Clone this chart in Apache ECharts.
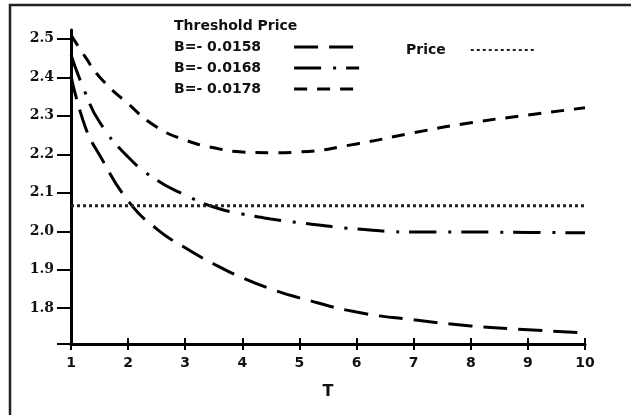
<!DOCTYPE html>
<html>
<head>
<meta charset="utf-8">
<script src="https://cdn.jsdelivr.net/npm/echarts@6/dist/echarts.min.js"></script>
<style>
  html, body { margin: 0; padding: 0; background: #fff; }
  #chart { width: 631px; height: 415px; }
</style>
</head>
<body>
<div id="chart"></div>
<script>
// values
const tValues = [1, 1.25, 1.5, 2, 2.5, 3, 3.5, 4, 4.5, 5, 6, 7, 8, 9, 10];
const b0158 = [2.404, 2.271, 2.198, 2.079, 2.006, 1.957, 1.915, 1.879, 1.850, 1.827, 1.790, 1.770, 1.754, 1.744, 1.736];
const b0168 = [2.458, 2.360, 2.284, 2.193, 2.133, 2.094, 2.063, 2.045, 2.032, 2.022, 2.006, 1.998, 1.998, 1.997, 1.996];
const b0178 = [2.510, 2.453, 2.401, 2.331, 2.271, 2.237, 2.217, 2.206, 2.204, 2.206, 2.227, 2.256, 2.282, 2.302, 2.321];
const priceT = [1, 10];
const priceValues = [2.066, 2.066];
const xTicks = [1, 2, 3, 4, 5, 6, 7, 8, 9, 10];
const yTicks = [1.8, 1.9, 2.0, 2.1, 2.2, 2.3, 2.4, 2.5];
const yMin = 1.707;
const yMax = 2.523;

const pairs = (xs, ys) => xs.map((x, i) => [x, ys[i]]);

const chart = echarts.init(document.getElementById('chart'), null, { renderer: 'canvas' });

const bold = { fontFamily: 'DejaVu Sans', fontWeight: 'bold', color: '#111' };

const option = {
  animation: false,
  backgroundColor: '#fff',
  title: {
    text: 'Threshold Price',
    left: 174,
    top: 19,
    padding: 0,
    textStyle: { ...bold, fontSize: 14 }
  },
  legend: [{
    data: ['B=- 0.0158', 'B=- 0.0168', 'B=- 0.0178'],
    orient: 'vertical',
    align: 'right',
    left: 174,
    top: 40,
    padding: 0,
    itemWidth: 65,
    itemHeight: 14,
    itemGap: 7,
    itemStyle: { opacity: 0 },
    lineStyle: { width: 3 },
    textStyle: { ...bold, fontSize: 14, padding: [0, 28, 0, 0] }
  }, {
    data: ['Price'],
    align: 'right',
    left: 406,
    top: 43,
    padding: 0,
    itemWidth: 64,
    itemHeight: 14,
    itemStyle: { opacity: 0 },
    lineStyle: { width: 2 },
    textStyle: { ...bold, fontSize: 14, padding: [0, 20, 0, 0] }
  }],
  grid: { left: 71, right: 46, top: 30, bottom: 71, containLabel: false },
  xAxis: [{
    type: 'value',
    min: 1,
    max: 10,
    interval: 1,
    name: 'T',
    nameLocation: 'middle',
    nameGap: 40,
    nameTextStyle: { ...bold, fontSize: 16 },
    axisLine: { show: true, lineStyle: { color: '#000', width: 3 } },
    axisTick: { show: true, inside: false, length: 6, lineStyle: { color: '#000', width: 2 }, customValues: xTicks },
    axisLabel: { ...bold, fontSize: 14, margin: 12, customValues: xTicks },
    splitLine: { show: false }
  }, {
    type: 'value',
    min: 1,
    max: 10,
    position: 'bottom',
    axisLine: { show: false },
    axisTick: { show: true, inside: true, length: 6, lineStyle: { color: '#000', width: 2 }, customValues: xTicks },
    axisLabel: { show: false },
    splitLine: { show: false }
  }],
  yAxis: {
    type: 'value',
    min: yMin,
    max: yMax,
    axisLine: { show: true, lineStyle: { color: '#000', width: 3 } },
    axisTick: { show: true, length: 14, lineStyle: { color: '#000', width: 2 }, customValues: [yMin].concat(yTicks) },
    axisLabel: {
      fontFamily: 'DejaVu Serif', fontWeight: 'bold', fontSize: 14, color: '#111', margin: 17,
      customValues: yTicks,
      formatter: v => v.toFixed(1)
    },
    splitLine: { show: false }
  },
  series: [{
    name: 'B=- 0.0158',
    type: 'line',
    smooth: true,
    symbol: 'none',
    data: pairs(tValues, b0158),
    lineStyle: { color: '#000', width: 3, type: [24, 11] }
  }, {
    name: 'B=- 0.0168',
    type: 'line',
    smooth: true,
    symbol: 'none',
    data: pairs(tValues, b0168),
    lineStyle: { color: '#000', width: 3, type: [27, 12, 3, 10] }
  }, {
    name: 'B=- 0.0178',
    type: 'line',
    smooth: true,
    symbol: 'none',
    data: pairs(tValues, b0178),
    lineStyle: { color: '#000', width: 3, type: [13, 10] }
  }, {
    name: 'Price',
    type: 'line',
    symbol: 'none',
    data: pairs(priceT, priceValues),
    lineStyle: { color: '#222', width: 3, type: [3, 3] }
  }],
  graphic: [{
    // picture frame, only its left and top edges are inside the window
    type: 'rect',
    silent: true,
    shape: { x: 10, y: 5, width: 700, height: 500 },
    style: { fill: 'none', stroke: '#222', lineWidth: 2.5 }
  }]
};

chart.setOption(option);
</script>
</body>
</html>
